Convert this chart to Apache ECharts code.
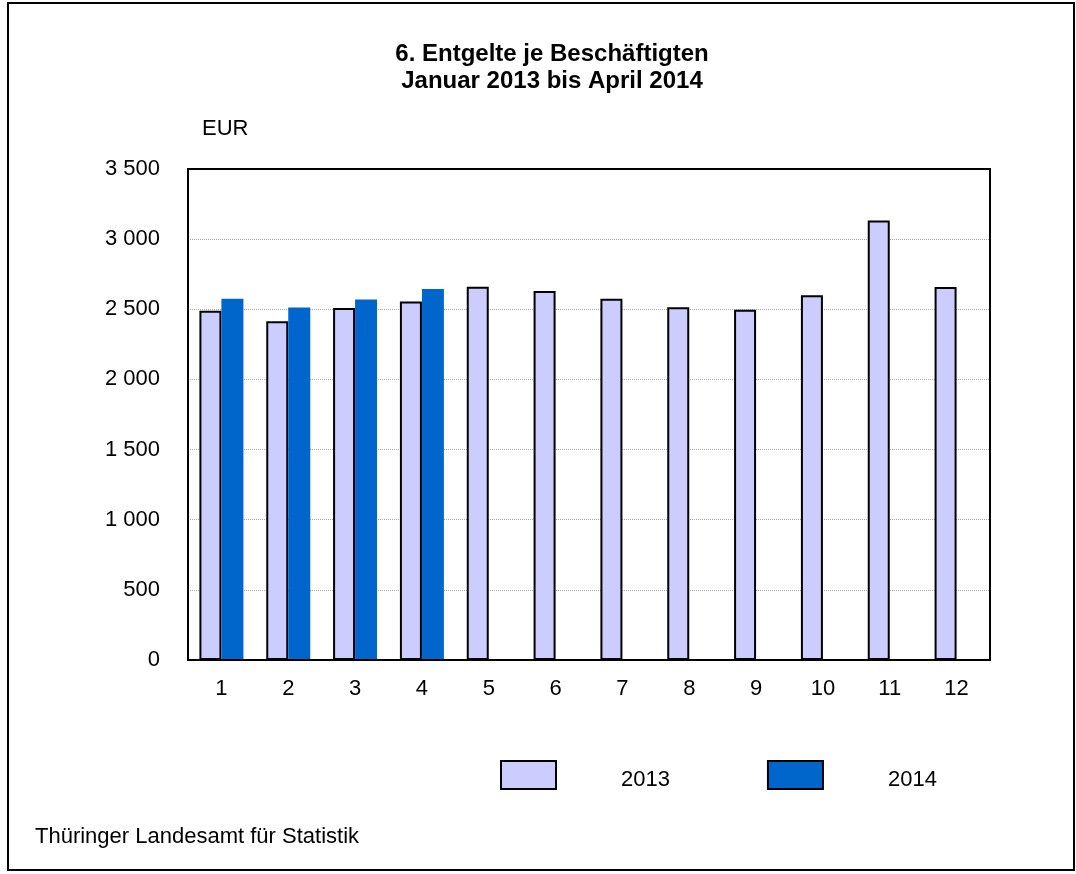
<!DOCTYPE html>
<html>
<head>
<meta charset="utf-8">
<script src="https://cdn.jsdelivr.net/npm/echarts@6/dist/echarts.min.js"></script>
<style>
  html, body { margin: 0; padding: 0; background: #fff; }
  #chart { width: 1076px; height: 874px; }
</style>
</head>
<body>
<div id="chart"></div>
<script>
// Monate
const months = ['1', '2', '3', '4', '5', '6', '7', '8', '9', '10', '11', '12'];
// Entgelte je Beschäftigten in EUR
const values2013 = [2490, 2415, 2510, 2555, 2660, 2630, 2575, 2515, 2497, 2600, 3133, 2658];
const values2014 = [2575, 2512, 2570, 2645];
const seriesNames = ['2013', '2014'];
const yTicks = [0, 500, 1000, 1500, 2000, 2500, 3000, 3500];

const fmt = v => String(v).replace(/\B(?=(\d{3})+(?!\d))/g, ' ');

const chart = echarts.init(document.getElementById('chart'));
const font = 'Liberation Sans, Arial, sans-serif';

chart.setOption({
  animation: false,
  backgroundColor: '#fff',
  textStyle: { fontFamily: font },
  title: {
    text: '6. Entgelte je Beschäftigten\nJanuar 2013 bis April 2014',
    left: 547, top: 36, textAlign: 'center',
    textStyle: { fontSize: 24, fontWeight: 'bold', color: '#000', lineHeight: 27, fontFamily: font }
  },
  grid: { left: 188, right: 86, top: 169, bottom: 214 },
  xAxis: {
    type: 'category',
    data: months,
    axisLine: { show: true, lineStyle: { color: '#000', width: 2 } },
    axisTick: { show: false },
    axisLabel: { color: '#000', fontSize: 22, margin: 18, fontFamily: font }
  },
  yAxis: {
    type: 'value',
    min: yTicks[0], max: yTicks[yTicks.length - 1], interval: 500,
    name: 'EUR',
    nameLocation: 'end',
    nameGap: 29,
    nameTextStyle: { color: '#000', fontSize: 22, align: 'left', padding: [0, 0, 0, 14], fontFamily: font },
    axisLine: { show: true, lineStyle: { color: '#000', width: 2 } },
    axisTick: { show: false },
    axisLabel: { color: '#000', fontSize: 22, margin: 28, formatter: v => fmt(v), fontFamily: font },
    splitLine: { show: true, lineStyle: { color: '#aaa', width: 1, type: 'dotted' } }
  },
  legend: {
    top: 760, left: 500, padding: 0,
    itemWidth: 55, itemHeight: 28,
    itemGap: 97,
    icon: 'rect',
    data: [
      { name: seriesNames[0], itemStyle: { borderColor: '#000', borderWidth: 2 } },
      { name: seriesNames[1], itemStyle: { borderColor: '#000', borderWidth: 2 } }
    ],
    formatter: name => '{t|' + name + '}',
    textStyle: {
      color: '#000', fontSize: 22, fontFamily: font,
      rich: { t: { fontSize: 22, color: '#000', fontFamily: font, padding: [10, 0, 0, 60] } }
    },
    selectedMode: false
  },
  graphic: [
    {
      type: 'rect',
      shape: { x: 8, y: 3, width: 1066, height: 867 },
      style: { fill: 'none', stroke: '#000', lineWidth: 2 },
      z: 100, silent: true
    },
    {
      type: 'rect',
      shape: { x: 188, y: 169, width: 802, height: 491 },
      style: { fill: 'none', stroke: '#000', lineWidth: 2 },
      z: 100, silent: true
    },
    {
      type: 'text', left: 35, top: 826,
      style: { text: 'Thüringer Landesamt für Statistik', fontSize: 22, fill: '#000', fontFamily: font }
    }
  ],
  series: [
    {
      name: seriesNames[0], type: 'bar', data: values2013,
      barWidth: 22, barGap: '0%',
      itemStyle: { color: '#ccccff', borderColor: '#000', borderWidth: 2 }
    },
    {
      name: seriesNames[1], type: 'bar', data: values2014,
      barWidth: 22,
      itemStyle: { color: '#0066cc', borderWidth: 0 }
    }
  ]
});
</script>
</body>
</html>
